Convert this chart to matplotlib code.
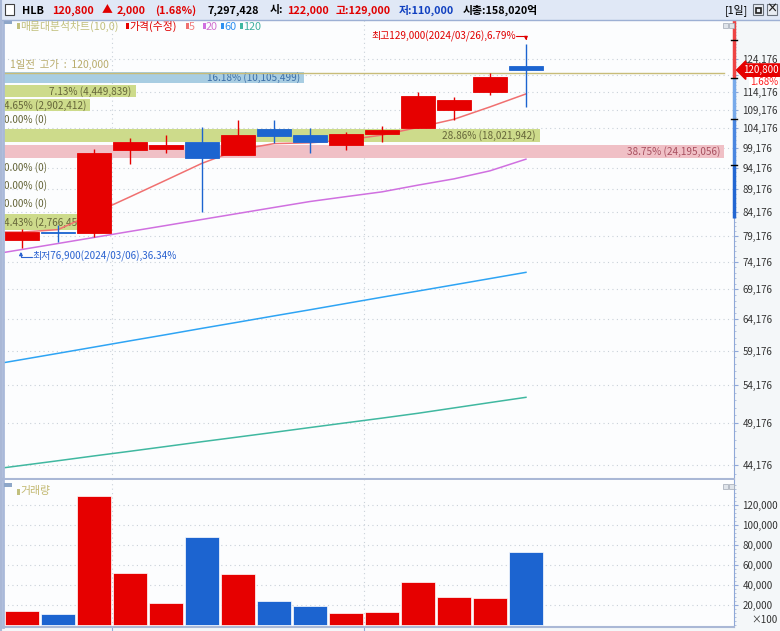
import numpy as np
import matplotlib.pyplot as plt
import matplotlib.transforms as mtransforms
from matplotlib.patches import Rectangle
from matplotlib.ticker import FixedLocator, NullFormatter

plt.rcParams['font.family'] = ['Noto Sans CJK KR', 'DejaVu Sans']

# HLB daily candles, 2024/03/06 ~ 2024/03/26
opens  = [78400, 80000, 79800, 98600, 98900, 100500, 97300, 104000, 102300, 99800, 102600, 104300, 109200, 114400, 122000]
highs  = [80700, 81400, 98800, 101600, 102400, 104400, 106300, 106300, 104200, 103100, 104900, 114400, 112800, 120000, 129000]
lows   = [76900, 78000, 79100, 95100, 97900, 84100, 97300, 100300, 97900, 98600, 100700, 104300, 106400, 113400, 110000]
closes = [80100, 79800, 97800, 100500, 99900, 96700, 102300, 102200, 100700, 102700, 103700, 113000, 112000, 118800, 120800]
volume = [14230, 10950, 128660, 52340, 22490, 87860, 50750, 24180, 19200, 11940, 13230, 43380, 27860, 27160, 72974]  # x100

# moving averages as drawn (first value = day before the first visible candle)
ma5   = [80000, 80000, 80500, 83900, 87500, 91300, 95300, 98600, 100200, 100400, 101100, 102400, 104400, 106600, 110000, 113700]
ma20  = [75380, 76540, 77710, 78910, 80130, 81350, 82610, 83880, 85170, 86470, 87550, 88620, 90150, 91600, 93490, 96310]
ma60  = [56940, 57840, 58760, 59700, 60660, 61620, 62620, 63610, 64630, 65650, 66710, 67780, 68850, 69950, 71070, 72210]
ma120 = [43660, 44180, 44710, 45260, 45800, 46360, 46930, 47490, 48060, 48650, 49240, 49830, 50450, 51140, 51840, 52540]

# volume profile (매물대), bottom band to top band
band_pct = [4.43, 0.00, 0.00, 0.00, 38.75, 28.86, 0.00, 4.65, 7.13, 16.18]
band_vol = [2766456, 0, 0, 0, 24195056, 18021942, 0, 2902412, 4449839, 10105499]
band_low, band_high = 80000, 120630

price_ticks = list(range(44176, 125000, 5000))
vol_ticks = [20000, 40000, 60000, 80000, 100000, 120000]
prev_high = 120000
last_price = 120800

RED = '#e60000'
BLUE = '#1c64d0'
W, H = 780, 631

fig = plt.figure(figsize=(7.8, 6.31), dpi=100, facecolor='#f4f7f9')


def fx(px):
    return px / W


def fy(py):
    return 1 - py / H


ax = fig.add_axes([fx(3), fy(479), fx(734) - fx(3), fy(20) - fy(479)])
axv = fig.add_axes([fx(3), fy(627), fx(734) - fx(3), fy(480) - fy(627)])
for a in (ax, axv):
    a.set_facecolor('#fcfdfe')
    a.set_xlim(-0.528, 19.78)
    for v in (2.5, 9.5):
        a.axvline(v, color='#c9d1d9', lw=0.8, ls=(0, (1, 3)), zorder=0.5)
    a.spines['top'].set_visible(False)
    a.spines['left'].set_color('#a9b9d9')
    a.spines['left'].set_linewidth(2)
    a.spines['right'].set_color('#8fa8d8')
    a.spines['bottom'].set_color('#aab8d6')
    a.spines['bottom'].set_linewidth(1.5)

x = np.arange(len(closes))
xm = np.arange(-1, len(closes))
o = np.array(opens)
c = np.array(closes)
cols = [RED if cc >= oo else BLUE for oo, cc in zip(opens, closes)]

# ---- price panel
ax.set_yscale('log')
ax.set_ylim(42680, 137230)
ax.yaxis.tick_right()
ax.set_yticks(price_ticks)
ax.set_yticklabels(['' if t == 119176 else f'{t:,}' for t in price_ticks])
ax.yaxis.set_minor_locator(FixedLocator(range(43176, 137000, 1000)))
ax.yaxis.set_minor_formatter(NullFormatter())
ax.tick_params(axis='y', which='major', length=3, color='#8fa8d8', labelsize=7, labelcolor='#333333', pad=3)
ax.tick_params(axis='y', which='minor', length=1.5, color='#a9b9d9')
ax.tick_params(axis='x', bottom=False, labelbottom=False)
for t in price_ticks:
    ax.axhline(t, color='#c9d1d9', lw=0.8, ls=(0, (1, 3)), zorder=0.5)

trans = mtransforms.blended_transform_factory(ax.transAxes, ax.transData)

# volume profile bands
step = (band_high - band_low) / len(band_pct)
maxp = max(band_pct)
full = 721 / 731
for i, (p, vol) in enumerate(zip(band_pct, band_vol)):
    lo = band_low + i * step
    hi = lo + step
    if p == maxp:
        fc, tc = '#f0c0c6', '#a85060'
    elif lo <= last_price <= hi + 200:
        fc, tc = '#a8cde2', '#3a6ea8'
    else:
        fc, tc = '#cddb8b', '#66663a'
    frac = p / maxp * full
    if p > 0:
        ax.axhspan(lo + 0.095 * step, hi - 0.095 * step, xmin=0, xmax=frac, color=fc, lw=0, zorder=1)
    label = f'{p:.2f}% ({vol:,})'
    ym = np.sqrt(lo * hi)
    if frac * 731 > 95:
        ax.text(frac - 4 / 731, ym, label, transform=trans, ha='right', va='center', fontsize=7.2, color=tc, zorder=1.2)
    else:
        ax.text(1 / 731, ym, label, transform=trans, ha='left', va='center', fontsize=7.2, color=tc, zorder=1.2)

# previous day high line
ax.plot([0, full], [prev_high, prev_high], transform=trans, color='#c8bc78', lw=1, zorder=1.5)
ax.text(7 / 731, 122390, f'1일전  고가  :  {prev_high:,}', transform=trans, ha='left', va='center',
        fontsize=7.5, color='#b8ab6a')

# moving averages
ax.plot(xm, ma120, color='#40b8a0', lw=1.1, zorder=2)
ax.plot(xm, ma60, color='#2ea4f4', lw=1.1, zorder=2)
ax.plot(xm, ma20, color='#d070e0', lw=1.1, zorder=2)
ax.plot(xm, ma5, color='#f07070', lw=1.1, zorder=2)

# candles
ax.vlines(x, lows, highs, colors=cols, lw=1, zorder=3)
ax.bar(x, np.abs(c - o), bottom=np.minimum(o, c), width=0.94, color=cols, edgecolor=cols, lw=0.6, zorder=3.1)

# highest / lowest marks
hi_i = int(np.argmax(highs))
lo_i = int(np.argmin(lows))
ax.text(13.72, 131770, f'최고{highs[hi_i]:,}(2024/03/26),{(highs[hi_i] - last_price) / last_price * 100:.2f}%',
        ha='right', va='center', fontsize=7.2, color='#e00000', zorder=4)
ax.annotate('', xy=(hi_i, 130300), xytext=(13.72, 131770),
            arrowprops=dict(arrowstyle='-|>', color='#e00000', lw=0.8, mutation_scale=5,
                            connectionstyle='angle,angleA=0,angleB=90,rad=0', shrinkA=0, shrinkB=0))
ax.text(0.3, 75210, f'최저{lows[lo_i]:,}(2024/03/06),{(last_price - lows[lo_i]) / last_price * 100:.2f}%',
        ha='left', va='center', fontsize=7.2, color='#2a62d0', zorder=4)
ax.annotate('', xy=(lo_i - 0.03, 76100), xytext=(0.28, 75000),
            arrowprops=dict(arrowstyle='-|>', color='#2a62d0', lw=0.8, mutation_scale=5,
                            connectionstyle='angle,angleA=0,angleB=90,rad=0', shrinkA=0, shrinkB=0))

# coloured right axis segments
seg_edges = [137230, 118350, 106600, 94930, 83000]
seg_cols = ['#ee4444', '#78aaea', '#4a86e0', '#2266d2']
for (y1, y2), sc in zip(zip(seg_edges[:-1], seg_edges[1:]), seg_cols):
    ax.plot([1, 1], [y2, y1], transform=trans, color=sc, lw=2.5, clip_on=False, zorder=5, solid_capstyle='butt')
for yb in [130440, 118350, 106600, 94930]:
    ax.plot([0.996, 1.004], [yb, yb], transform=trans, color='black', lw=1, clip_on=False, zorder=6)

# last price tag
ax.text(1 + 9 / 731, last_price, f'{last_price:,}', transform=trans, ha='left', va='center', fontsize=7,
        color='white', zorder=7, clip_on=False,
        bbox=dict(boxstyle='larrow,pad=0.12', fc=RED, ec=RED))
ax.annotate('1.68%', xy=(1, last_price), xycoords=trans, xytext=(44 * 0.72, -12 * 0.72),
            textcoords='offset points', ha='right', va='center', fontsize=7, color='#ff2020',
            bbox=dict(boxstyle='square,pad=0.1', fc='white', ec='none'), annotation_clip=False)

# ---- volume panel
axv.bar(x, volume, width=0.94, color=cols, edgecolor='white', lw=0.5, zorder=3)
axv.set_ylim(-1700, 144600)
axv.yaxis.tick_right()
axv.set_yticks(vol_ticks)
axv.set_yticklabels([f'{v:,}' for v in vol_ticks])
axv.yaxis.set_minor_locator(FixedLocator(range(0, 144000, 4000)))
axv.tick_params(axis='y', which='major', length=3, color='#8fa8d8', labelsize=7, labelcolor='#333333', pad=3)
axv.tick_params(axis='y', which='minor', length=1.5, color='#a9b9d9')
axv.set_xticks([2.5, 9.5])
axv.tick_params(axis='x', length=3, color='#8fa8d8', labelbottom=False)
for v in vol_ticks:
    axv.axhline(v, color='#c9d1d9', lw=0.8, ls=(0, (1, 3)), zorder=0.5)
fig.text(fx(778), fy(620), '×100', ha='right', va='center', fontsize=7, color='#333333')

# ---- title bar
fig.patches.append(Rectangle((0, fy(19.5)), 1, 19.5 / H, transform=fig.transFigure, fc='#e0e8f6', ec='none'))
fig.lines.append(plt.Line2D([0, 1], [fy(19.5), fy(19.5)], transform=fig.transFigure, color='#9db0d4', lw=1))
fig.lines.append(plt.Line2D([fx(1), fx(1)], [0, 1], transform=fig.transFigure, color='#aab8d6', lw=1.5))
fig.patches.append(Rectangle((fx(5), fy(15)), 9 / W, 11 / H, transform=fig.transFigure, fc='white', ec='#404040', lw=0.8))

title_parts = [('HLB', 22, 'black'), ('120,800', 52, '#e00000'), ('▲', 102, '#e00000'),
               ('2,000', 117, '#e00000'), ('(1.68%)', 155, '#e00000'), ('7,297,428', 208, 'black'),
               ('시:', 270, 'black'), ('122,000', 287, '#e00000'), ('고:129,000', 336, '#e00000'),
               ('저:110,000', 399, '#1040c0'), ('시총:158,020억', 463, 'black')]
for txt, px, col in title_parts:
    fig.text(fx(px), fy(10.5), txt, ha='left', va='center', fontsize=7.8, fontweight='bold', color=col)
fig.text(fx(725), fy(10.5), '[1일]', ha='left', va='center', fontsize=7.8, color='black')
for bx in (753, 767):
    fig.patches.append(Rectangle((fx(bx), fy(15)), 10 / W, 11 / H, transform=fig.transFigure,
                                 fc='#e8ecf2', ec='#6a727c', lw=0.8))
fig.patches.append(Rectangle((fx(755.5), fy(12.5)), 5 / W, 5 / H, transform=fig.transFigure,
                             fc='none', ec='#202020', lw=1.2))
fig.text(fx(772), fy(9.5), '×', ha='center', va='center', fontsize=8, fontweight='bold', color='#202020')

# panel icons
for iy in (28, 489):
    for bx in (723, 729):
        fig.patches.append(Rectangle((fx(bx), fy(iy)), 5 / W, 5 / H, transform=fig.transFigure,
                                     fc='#dfe4ea', ec='#a0a8b4', lw=0.5))

# ---- legends
fig.patches.append(Rectangle((fx(4), fy(24)), 8 / W, 4 / H, transform=fig.transFigure, fc='#8da6c8', ec='none'))
legend_items = [('매물대분석차트(10,0)', 17, '#c2c07e', '#c2c07e'), ('가격(수정)', 126, RED, '#e00000'),
                ('5', 186, '#f07070', '#f08080'), ('20', 203, '#d070e0', '#d070d0'),
                ('60', 221, '#2e90f0', '#2e90f0'), ('120', 240, '#40b8a0', '#40b0a0')]
for txt, px, mc, tc in legend_items:
    fig.patches.append(Rectangle((fx(px), fy(29)), 2.5 / W, 6 / H, transform=fig.transFigure, fc=mc, ec='none'))
    fig.text(fx(px + 3), fy(26.5), txt, ha='left', va='center', fontsize=7.8, color=tc)

fig.patches.append(Rectangle((fx(4), fy(487)), 8 / W, 4 / H, transform=fig.transFigure, fc='#8da6c8', ec='none'))
fig.patches.append(Rectangle((fx(17), fy(495)), 2.5 / W, 6 / H, transform=fig.transFigure, fc='#c2c07e', ec='none'))
fig.text(fx(20), fy(491), '거래량', ha='left', va='center', fontsize=7.8, color='#c2b870')

fig.savefig('out.png', dpi=100, facecolor=fig.get_facecolor())
